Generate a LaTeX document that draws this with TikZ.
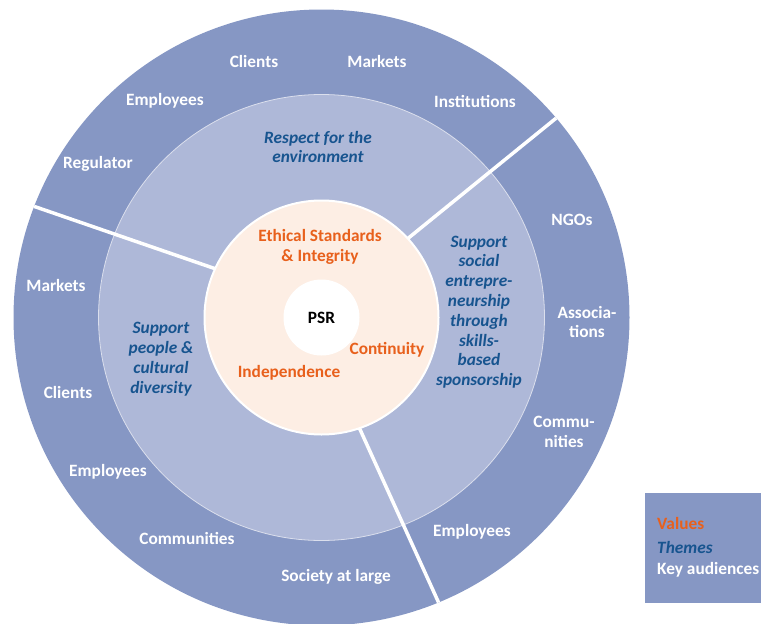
\documentclass[tikz,border=0pt]{standalone}
\usepackage{fontspec}
\setmainfont{Carlito}
\definecolor{outerring}{HTML}{8697C4}
\definecolor{midring}{HTML}{AEB8D8}
\definecolor{corefill}{HTML}{FDEEE4}
\definecolor{valorange}{HTML}{E8601C}
\definecolor{themeblue}{HTML}{17548F}
\begin{document}
\begin{tikzpicture}[x=1pt,y=-1pt,
  every node/.style={font=\fontsize{17.3}{19.8}\selectfont\bfseries, inner sep=0pt, align=center},
  aud/.style={text=white},
  theme/.style={text=themeblue, font=\fontsize{17.3}{19.8}\selectfont\bfseries\itshape},
  val/.style={text=valorange},
  divider/.style={white, line width=3.5pt},
]
\useasboundingbox (0,0) rectangle (761,624);
\coordinate (c) at (321.5,317.5);

% rings
\fill[outerring] (c) circle[radius=308pt];
\draw[white!55!midring, line width=0.8pt, fill=midring] (c) circle[radius=223pt];

% dividers between the three sectors
\coordinate (d1a) at (406,240);
\coordinate (d1b) at (560,115);
\coordinate (d2a) at (216,269);
\coordinate (d2b) at (33,206);
\coordinate (d3a) at (358,425);
\coordinate (d3b) at (442,610);
\begin{scope}
  \clip (c) circle[radius=308pt];
  \draw[divider] (d1a) -- (d1b);
  \draw[divider] (d2a) -- (d2b);
  \draw[divider] (d3a) -- (d3b);
\end{scope}

% core
\draw[white, line width=2pt, fill=corefill] (c) circle[radius=117pt];
\node[circle, fill=white, minimum size=76pt] (psr) at (c) {PSR};

% values
\node[val] (ethics) at (320,247) {Ethical Standards\\\& Integrity};
\node[val] (cont) at (387,350) {Continuity};
\node[val] (indep) at (289,373) {Independence};

% themes
\node[theme] (env) at (318,147) {Respect for the\\environment};
\node[theme] (people) at (161,359) {Support\\people \&\\cultural\\diversity};
\node[theme] (social) at (479,312) {Support\\social\\entrepre-\\neurship\\through\\skills-\\based\\sponsorship};

% key audiences
\node[aud] (a1) at (254,61) {Clients};
\node[aud] (a2) at (377,61) {Markets};
\node[aud] (a3) at (165,101) {Employees};
\node[aud] (a4) at (475,101) {Institutions};
\node[aud] (a5) at (98,164) {Regulator};
\node[aud] (a6) at (56,285) {Markets};
\node[aud] (a7) at (68,392) {Clients};
\node[aud] (a8) at (108,472) {Employees};
\node[aud] (a9) at (187,538) {Communities};
\node[aud] (a10) at (336,577) {Society at large};
\node[aud] (a11) at (472,532) {Employees};
\node[aud] (a12) at (564,432) {Commu-\\nities};
\node[aud] (a13) at (587,322) {Associa-\\tions};
\node[aud] (a14) at (572,220) {NGOs};

% legend
\node[fill=outerring, minimum width=116pt, minimum height=110pt, anchor=north west] (legend) at (645,493) {};
\node[val, anchor=west] (lv) at (657,523) {Values};
\node[theme, anchor=west] (lt) at (657,547) {Themes};
\node[aud, anchor=west] (lk) at (657,570) {Key audiences};
\end{tikzpicture}
\end{document}
